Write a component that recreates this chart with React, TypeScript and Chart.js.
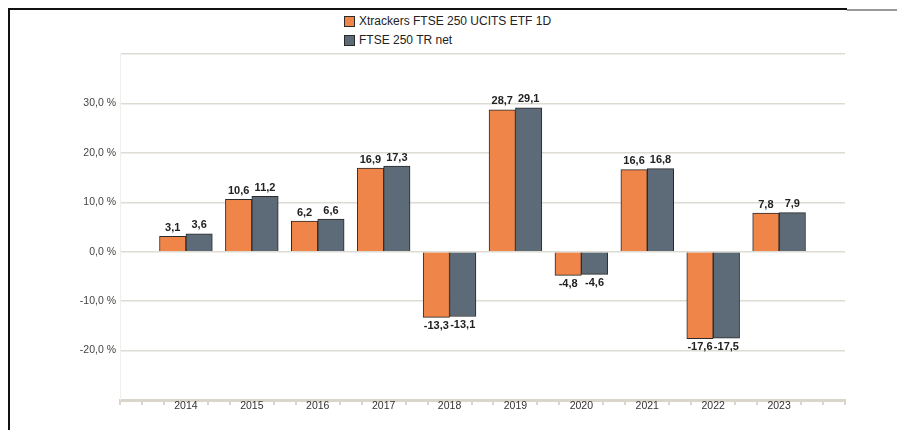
import React, { useEffect, useRef } from "react";
import { Chart, registerables } from "chart.js";

Chart.register(...registerables);

const years = [2014, 2015, 2016, 2017, 2018, 2019, 2020, 2021, 2022, 2023];
const etfValues = [3.1, 10.6, 6.2, 16.9, -13.3, 28.7, -4.8, 16.6, -17.6, 7.8];
const indexValues = [3.6, 11.2, 6.6, 17.3, -13.1, 29.1, -4.6, 16.8, -17.5, 7.9];
const seriesLabels = ["Xtrackers FTSE 250 UCITS ETF 1D", "FTSE 250 TR net"];
const seriesColors = ["#EF8549", "#5C6B77"];
const yMin = -30;
const yMax = 40;
const yLabelMin = -20;
const yLabelMax = 30;
const xMin = 2013;
const xMax = 2024;

const FONT = "'Liberation Sans', Arial, Helvetica, sans-serif";

const fmt = (v: number) => v.toFixed(1).replace(".", ",");

const isLabelYear = (v: number) =>
  Math.abs(v - Math.round(v)) < 1e-6 && Math.round(v) >= years[0] && Math.round(v) <= years[years.length - 1];

const valueLabels = {
  id: "valueLabels",
  afterDatasetsDraw(chart: any) {
    const ctx = chart.ctx;
    ctx.save();
    ctx.font = `bold 11px ${FONT}`;
    ctx.fillStyle = "#222";
    ctx.textAlign = "center";
    chart.data.datasets.forEach((ds: any, di: number) => {
      const meta = chart.getDatasetMeta(di);
      meta.data.forEach((el: any, i: number) => {
        const v = ds.data[i].y;
        if (v >= 0) {
          ctx.textBaseline = "bottom";
          ctx.fillText(fmt(v), el.x, el.y - 3);
        } else {
          ctx.textBaseline = "top";
          ctx.fillText(fmt(v), el.x, el.y + 3);
        }
      });
    });
    ctx.restore();
  },
};

export default function App() {
  const canvasRef = useRef<HTMLCanvasElement | null>(null);

  useEffect(() => {
    if (!canvasRef.current) return;
    const chart = new Chart(canvasRef.current, {
      type: "bar",
      data: {
        datasets: [
          {
            label: seriesLabels[0],
            data: years.map((y, i) => ({ x: y, y: etfValues[i] })),
            backgroundColor: seriesColors[0],
            borderColor: "#2a2a2a",
            borderWidth: 1,
            barThickness: 26.4,
          },
          {
            label: seriesLabels[1],
            data: years.map((y, i) => ({ x: y, y: indexValues[i] })),
            backgroundColor: seriesColors[1],
            borderColor: "#2a2a2a",
            borderWidth: 1,
            barThickness: 26.4,
          },
        ],
      },
      options: {
        responsive: true,
        maintainAspectRatio: false,
        animation: false,
        layout: { padding: { top: 46, right: 60, left: 0, bottom: 0 } },
        plugins: {
          legend: { display: false },
          tooltip: { enabled: false },
        },
        scales: {
          x: {
            type: "linear",
            min: xMin,
            max: xMax,
            offset: false,
            afterBuildTicks: (scale: any) => {
              const t = [];
              for (let k = 0; k <= (xMax - xMin) * 3; k++) t.push({ value: xMin + k / 3 });
              scale.ticks = t;
            },
            afterFit: (scale: any) => {
              scale.height = 30;
            },
            ticks: {
              autoSkip: false,
              maxRotation: 0,
              padding: -5,
              color: "#333",
              font: { family: FONT, size: 10.5 },
              callback: (value: any) => (isLabelYear(Number(value)) ? String(Math.round(Number(value))) : ""),
            },
            grid: {
              offset: false,
              drawOnChartArea: false,
              drawTicks: true,
              tickLength: 5,
              lineWidth: 2,
              color: (c: any) => (c.tick && isLabelYear(c.tick.value) ? "rgba(0,0,0,0)" : "#d9d5ca"),
            },
            border: { display: true, color: "#d9d5ca", width: 3 },
          },
          y: {
            min: yMin,
            max: yMax,
            afterFit: (scale: any) => {
              scale.width = 112;
            },
            ticks: {
              stepSize: 10,
              padding: 4,
              color: "#444",
              font: { family: FONT, size: 10.5 },
              callback: (value: any) => {
                const v = Number(value);
                if (v < yLabelMin || v > yLabelMax) return "";
                return fmt(v) + " %";
              },
            },
            grid: {
              drawTicks: false,
              lineWidth: 1.5,
              color: "#dedbd3",
            },
            border: { display: true, color: "#f1efea", width: 1 },
          },
        },
      },
      plugins: [valueLabels],
    });
    return () => chart.destroy();
  }, []);

  return (
    <div style={{ position: "relative", width: 897, height: 422 }}>
      <div style={{ position: "absolute", left: 0, top: 0, width: 839, height: 2, background: "#111" }} />
      <div style={{ position: "absolute", left: 839, top: 1, width: 58, height: 1.5, background: "#999" }} />
      <div style={{ position: "absolute", left: 0, top: 0, width: 2, height: 422, background: "#111" }} />
      <div
        style={{
          position: "absolute",
          left: 336,
          top: 4,
          fontFamily: FONT,
          fontSize: 12,
          color: "#222",
          lineHeight: "19px",
        }}
      >
        {seriesLabels.map((lab, i) => (
          <div key={lab} style={{ display: "flex", alignItems: "center", height: 19 }}>
            <span
              style={{
                display: "inline-block",
                width: 9,
                height: 9,
                background: seriesColors[i],
                border: "1px solid #2a2a2a",
                marginRight: 4,
              }}
            />
            <span>{lab}</span>
          </div>
        ))}
      </div>
      <div style={{ position: "absolute", left: 0, top: 0, width: 897, height: 422 }}>
        <canvas ref={canvasRef} />
      </div>
    </div>
  );
}
